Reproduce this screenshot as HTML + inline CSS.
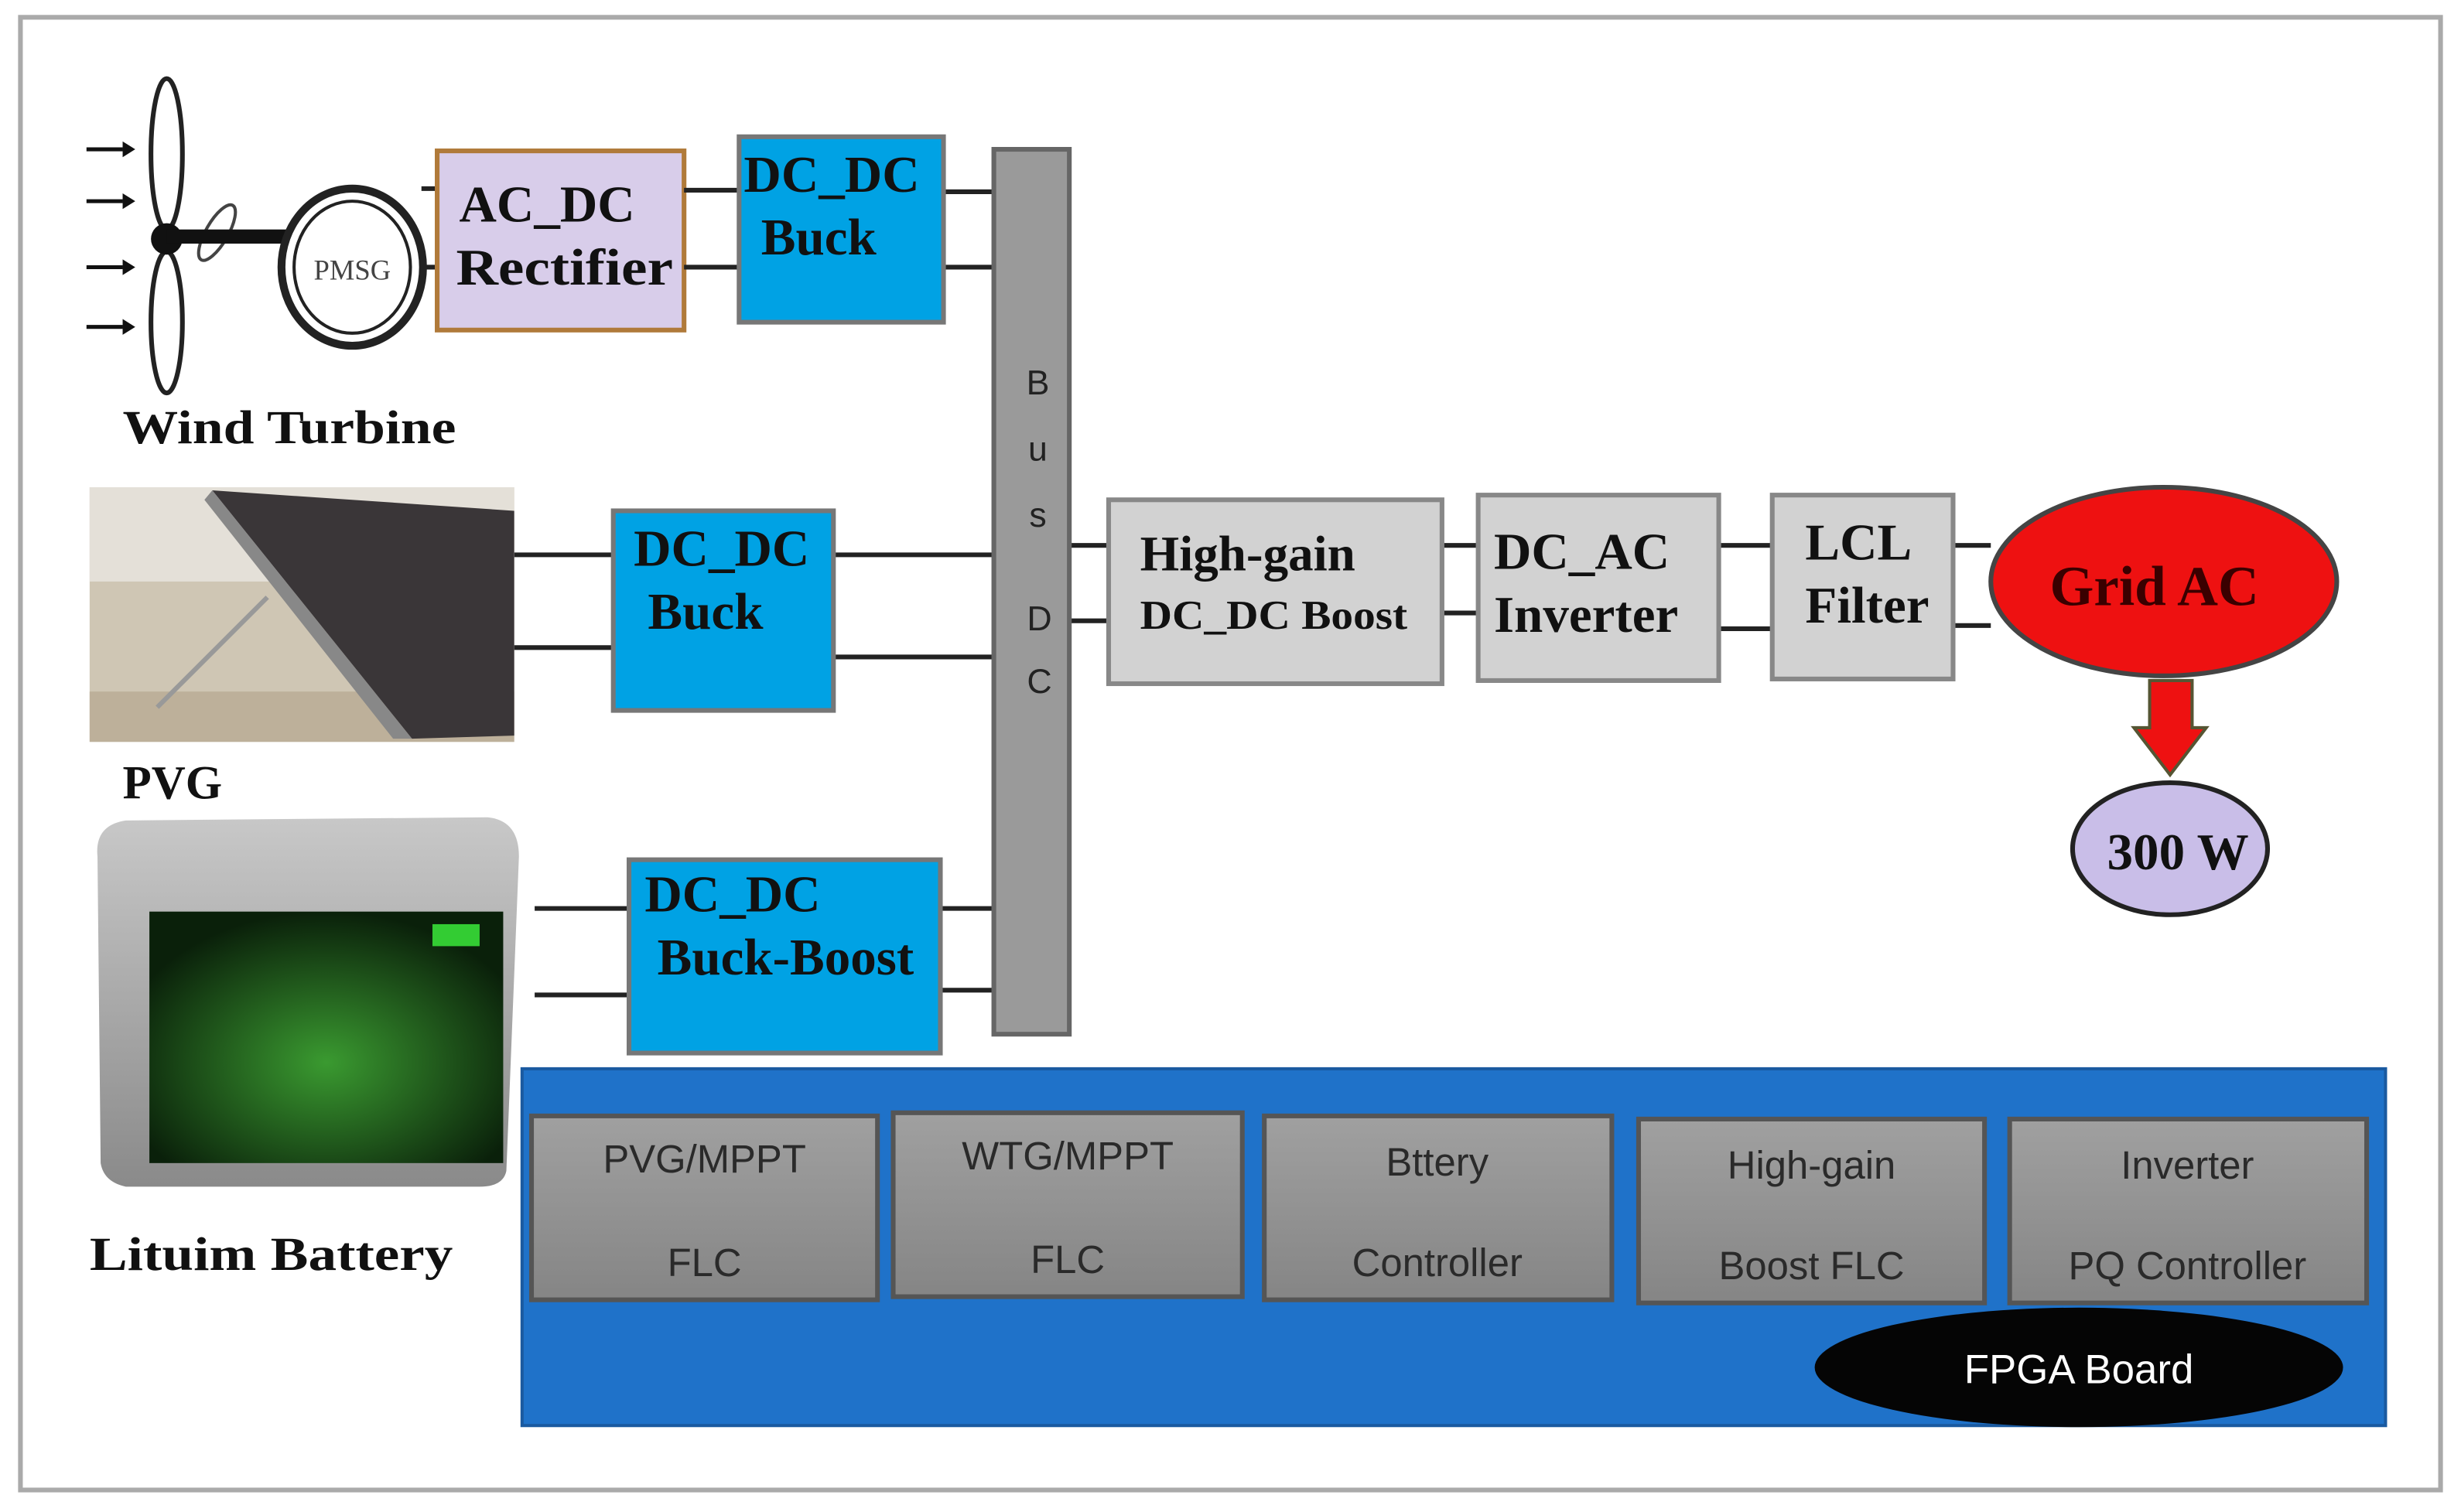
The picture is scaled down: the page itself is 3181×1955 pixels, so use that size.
<!DOCTYPE html>
<html><head><meta charset="utf-8"><style>
html,body{margin:0;padding:0;background:#fff;}
svg{display:block;}
.s{font-family:"Liberation Serif",serif;font-weight:bold;fill:#111;}
.g{font-family:"Liberation Sans",sans-serif;fill:#2a2a2a;font-size:25px;text-anchor:middle;}
</style></head><body>
<svg width="3181" height="1955" viewBox="0 0 1565 962" preserveAspectRatio="none" xmlns="http://www.w3.org/2000/svg">
<defs>
<linearGradient id="gb" x1="0" y1="0" x2="0" y2="1"><stop offset="0" stop-color="#a0a0a0"/><stop offset="1" stop-color="#858585"/></linearGradient>
<linearGradient id="bat" x1="0" y1="0" x2="0" y2="1"><stop offset="0" stop-color="#c8c8c8"/><stop offset="1" stop-color="#8a8a8a"/></linearGradient>
<radialGradient id="grn" cx="0.5" cy="0.6" r="0.6"><stop offset="0" stop-color="#3a9a30"/><stop offset="1" stop-color="#0a200a"/></radialGradient>
</defs>
<rect x="0" y="0" width="1565" height="962" fill="#fff"/>
<rect x="13" y="11" width="1539" height="937" fill="#fff" stroke="#aaa" stroke-width="3"/>

<g stroke="#111" stroke-width="2.5">
<line x1="55" y1="95" x2="78" y2="95"/><line x1="55" y1="128" x2="78" y2="128"/>
<line x1="55" y1="170" x2="78" y2="170"/><line x1="55" y1="208" x2="78" y2="208"/>
</g>
<g fill="#111"><path d="M78 90 L86 95 L78 100Z"/><path d="M78 123 L86 128 L78 133Z"/><path d="M78 165 L86 170 L78 175Z"/><path d="M78 203 L86 208 L78 213Z"/></g>
<ellipse cx="106" cy="98" rx="10" ry="48" fill="#fff" stroke="#222" stroke-width="3"/>
<ellipse cx="106" cy="205" rx="10" ry="45" fill="#fff" stroke="#222" stroke-width="3"/>
<ellipse cx="138" cy="148" rx="7" ry="20" fill="#fff" stroke="#444" stroke-width="2" transform="rotate(30 138 148)"/>
<circle cx="106" cy="152" r="10" fill="#111"/>
<rect x="106" y="146" width="78" height="9" fill="#111"/>
<ellipse cx="224" cy="170" rx="45" ry="50" fill="#fff" stroke="#222" stroke-width="5"/>
<ellipse cx="224" cy="170" rx="37" ry="42" fill="#fff" stroke="#222" stroke-width="2"/>
<text x="224" y="178" font-family="Liberation Serif,serif" font-size="18" text-anchor="middle" fill="#444">PMSG</text>
<line x1="268" y1="120" x2="278" y2="120" stroke="#222" stroke-width="3"/>
<line x1="268" y1="170" x2="278" y2="170" stroke="#222" stroke-width="3"/>
<text x="78" y="282" class="s" font-size="30" textLength="212" lengthAdjust="spacingAndGlyphs">Wind Turbine</text>

<rect x="278" y="96" width="157" height="114" fill="#d8cdea" stroke="#b07a3a" stroke-width="3"/>
<text x="292" y="141" class="s" font-size="33">AC_DC</text>
<text x="290" y="181" class="s" font-size="33" textLength="138" lengthAdjust="spacingAndGlyphs">Rectifier</text>

<g stroke="#222" stroke-width="3">
<line x1="435" y1="121" x2="470" y2="121"/><line x1="435" y1="170" x2="470" y2="170"/>
<line x1="600" y1="122" x2="632" y2="122"/><line x1="600" y1="170" x2="632" y2="170"/>
<line x1="327" y1="353" x2="390" y2="353"/><line x1="327" y1="412" x2="390" y2="412"/>
<line x1="530" y1="353" x2="632" y2="353"/><line x1="530" y1="418" x2="632" y2="418"/>
<line x1="340" y1="578" x2="400" y2="578"/><line x1="340" y1="633" x2="400" y2="633"/>
<line x1="598" y1="578" x2="632" y2="578"/><line x1="598" y1="630" x2="632" y2="630"/>
<line x1="680" y1="347" x2="705" y2="347"/><line x1="680" y1="395" x2="705" y2="395"/>
<line x1="917" y1="347" x2="940" y2="347"/><line x1="917" y1="390" x2="940" y2="390"/>
<line x1="1093" y1="347" x2="1127" y2="347"/><line x1="1093" y1="400" x2="1127" y2="400"/>
<line x1="1242" y1="347" x2="1266" y2="347"/><line x1="1242" y1="398" x2="1266" y2="398"/>
</g>

<rect x="470" y="87" width="130" height="118" fill="#00a2e4" stroke="#777" stroke-width="3"/>
<text x="473" y="122" class="s" font-size="33">DC_DC</text>
<text x="484" y="162" class="s" font-size="33">Buck</text>

<rect x="632" y="95" width="48" height="563" fill="#9a9a9a" stroke="#666" stroke-width="3"/>
<g font-family="Liberation Sans,sans-serif" font-size="22" fill="#222" text-anchor="middle">
<text x="660" y="251">B</text><text x="660" y="293">u</text><text x="660" y="335">s</text><text x="661" y="401">D</text><text x="661" y="441">C</text></g>

<rect x="57" y="310" width="270" height="162" fill="#cfc6b4"/>
<rect x="57" y="310" width="270" height="60" fill="#e4e0d8"/>
<rect x="57" y="440" width="270" height="32" fill="#bdb09a"/>
<polygon points="135,312 327,325 327,468 262,470" fill="#3a3638"/>
<polygon points="135,312 262,470 250,470 130,318" fill="#888"/>
<line x1="100" y1="450" x2="170" y2="380" stroke="#999" stroke-width="3"/>
<text x="78" y="508" class="s" font-size="30">PVG</text>

<rect x="390" y="325" width="140" height="127" fill="#00a2e4" stroke="#777" stroke-width="3"/>
<text x="403" y="360" class="s" font-size="33">DC_DC</text>
<text x="412" y="400" class="s" font-size="33">Buck</text>

<path d="M62 545 Q60 525 80 522 L310 520 Q330 522 330 545 L322 745 Q320 755 305 755 L80 755 Q66 752 64 740 Z" fill="url(#bat)"/>
<rect x="95" y="580" width="225" height="160" fill="url(#grn)"/>
<rect x="275" y="588" width="30" height="14" fill="#3c3"/>
<text x="57" y="808" class="s" font-size="30" textLength="231" lengthAdjust="spacingAndGlyphs">Lituim Battery</text>

<rect x="400" y="547" width="198" height="123" fill="#00a2e4" stroke="#777" stroke-width="3"/>
<text x="410" y="580" class="s" font-size="33">DC_DC</text>
<text x="418" y="620" class="s" font-size="33">Buck-Boost</text>

<rect x="705" y="318" width="212" height="117" fill="#d2d2d2" stroke="#888" stroke-width="3"/>
<text x="725" y="363" class="s" font-size="32">High-gain</text>
<text x="725" y="400" class="s" font-size="26" textLength="170" lengthAdjust="spacingAndGlyphs">DC_DC Boost</text>

<rect x="940" y="315" width="153" height="118" fill="#d2d2d2" stroke="#888" stroke-width="3"/>
<text x="950" y="362" class="s" font-size="33">DC_AC</text>
<text x="950" y="402" class="s" font-size="33">Inverter</text>

<rect x="1127" y="315" width="115" height="117" fill="#d2d2d2" stroke="#888" stroke-width="3"/>
<text x="1148" y="356" class="s" font-size="33">LCL</text>
<text x="1148" y="396" class="s" font-size="33">Filter</text>

<ellipse cx="1376" cy="370" rx="110" ry="60" fill="#ee1111" stroke="#444" stroke-width="3"/>
<text x="1370" y="385" class="s" font-size="36" text-anchor="middle" style="fill:#3a0000">Grid AC</text>
<path d="M1367 433 L1394 433 L1394 463 L1403 463 L1380 493 L1357 463 L1367 463 Z" fill="#ee1111" stroke="#553" stroke-width="2"/>
<ellipse cx="1380" cy="540" rx="62" ry="42" fill="#c9bee8" stroke="#222" stroke-width="3"/>
<text x="1385" y="553" class="s" font-size="33" text-anchor="middle">300 W</text>

<rect x="332" y="680" width="1185" height="227" fill="#1f72c9" stroke="#1a5aa0" stroke-width="2"/>
<g fill="url(#gb)" stroke="#555" stroke-width="3">
<rect x="338" y="710" width="220" height="117"/>
<rect x="568" y="708" width="222" height="117"/>
<rect x="804" y="710" width="221" height="117"/>
<rect x="1042" y="712" width="220" height="117"/>
<rect x="1278" y="712" width="227" height="117"/>
</g>
<text class="g" x="448" y="746">PVG/MPPT</text><text class="g" x="448" y="812">FLC</text>
<text class="g" x="679" y="744">WTG/MPPT</text><text class="g" x="679" y="810">FLC</text>
<text class="g" x="914" y="748">Bttery</text><text class="g" x="914" y="812">Controller</text>
<text class="g" x="1152" y="750">High-gain</text><text class="g" x="1152" y="814">Boost FLC</text>
<text class="g" x="1391" y="750">Inverter</text><text class="g" x="1391" y="814">PQ Controller</text>
<ellipse cx="1322" cy="870" rx="168" ry="38" fill="#050505"/>
<text x="1322" y="880" font-family="Liberation Sans,sans-serif" font-size="26" fill="#fff" text-anchor="middle">FPGA Board</text>
</svg>
</body></html>
